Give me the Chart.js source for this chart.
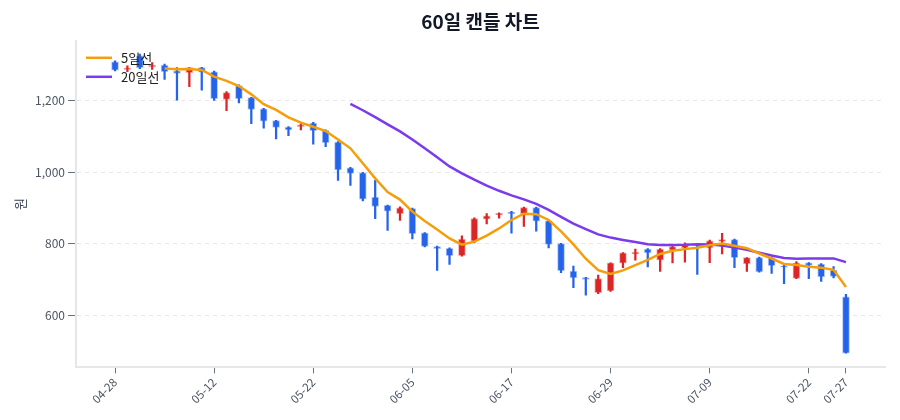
<!DOCTYPE html>
<html>
<head>
<meta charset="utf-8">
<script src="https://cdn.jsdelivr.net/npm/chart.js@4.4.1/dist/chart.umd.min.js"></script>
<style>
  html, body { margin: 0; padding: 0; background: #fff; }
  #wrap { width: 900px; height: 420px; }
</style>
</head>
<body>
<div id="wrap"><canvas id="candleChart" width="900" height="420"></canvas></div>
<script>
  // ── Data ──
  var dates = ['04-28','04-29','04-30','05-01','05-02','05-07','05-08','05-09','05-12','05-13',
               '05-14','05-15','05-16','05-19','05-20','05-21','05-22','05-23','05-26','05-27',
               '05-28','05-29','05-30','06-02','06-05','06-06','06-09','06-10','06-11','06-12',
               '06-13','06-16','06-17','06-18','06-19','06-20','06-23','06-24','06-25','06-27',
               '06-29','06-30','07-01','07-02','07-03','07-04','07-07','07-08','07-09','07-10',
               '07-11','07-14','07-15','07-16','07-17','07-18','07-22','07-23','07-24','07-27'];

  var opens  = [1308,1287,1325,1294,1299,1283,1278,1292,1280,1203,
                1242,1208,1177,1144,1126,1127,1137,1117,1084,1012,
                998,930,907,884,898,830,792,787,766,807,
                868,880,888,884,901,864,800,723,705,663,
                668,745,771,785,754,782,788,799,788,806,
                811,743,761,761,738,703,746,743,726,651];
  var highs  = [1311,1297,1330,1306,1302,1292,1292,1293,1282,1225,
                1244,1209,1178,1145,1127,1135,1139,1118,1085,1013,
                999,977,908,903,899,831,793,788,822,872,
                884,886,890,902,902,865,801,737,706,712,
                746,775,785,786,786,795,802,800,810,829,
                813,761,762,762,739,750,747,744,736,658];
  var lows   = [1283,1281,1289,1287,1259,1201,1239,1229,1200,1172,
                1193,1135,1123,1093,1102,1118,1078,1071,977,963,
                919,870,837,865,813,791,725,742,765,802,
                855,871,829,848,835,788,719,677,656,660,
                666,733,754,735,722,746,748,714,747,771,
                733,722,720,717,688,702,702,694,704,494];
  var closes = [1285,1290,1292,1299,1281,1276,1292,1279,1205,1222,
                1205,1175,1142,1125,1118,1132,1116,1082,1006,996,
                924,904,891,900,828,792,786,766,813,870,
                878,885,884,901,863,798,724,704,700,702,
                746,774,776,774,785,792,796,795,808,811,
                761,761,721,738,734,746,739,707,708,494];

  var ma5  = [null,null,null,null,1289.4,1287.6,1288,1285.4,1266.6,1254.8,
              1240.6,1217.2,1189.8,1173.8,1153,1138.4,1126.6,1114.6,1090.8,1066.4,
              1024.8,982.4,944.2,923,889.4,863,839.4,814.4,797,805.4,
              822.6,842.4,866,883.6,882.2,866.2,834,798,757.8,725.6,
              715.2,725.2,739.6,754.4,771,780.2,784.6,788.4,795.2,800.4,
              794.2,787.2,772.4,758.4,743,740,735.6,732.8,726.8,678.8];
  var ma20 = [null,null,null,null,null,null,null,null,null,null,
              null,null,null,null,null,null,null,null,null,1190.9,
              1172.9,1153.6,1133.5,1113.6,1090.9,1066.7,1041.4,1015.8,996.2,978.6,
              962.2,947.7,934.8,923.6,910.9,894.2,874.6,855.7,840.4,825.7,
              816.8,810.3,804.5,798.2,796.1,796.1,796.6,798,797.8,794.8,
              789,782.8,774.6,766.5,760,757.4,758.2,758.3,758.7,748.3];

  var tickIdx = [0, 8, 16, 24, 32, 40, 48, 56, 59];
  var yTicks  = [600, 800, 1000, 1200];

  // ── Colours ──
  var UP = '#dc2626', DOWN = '#2563eb';
  var UP_EDGE = 'rgba(220,38,38,0.35)', DOWN_EDGE = 'rgba(37,99,235,0.35)';

  function isUp(i) { return closes[i] >= opens[i]; }

  var wickData = dates.map(function(d, i) { return { x: i, y: [lows[i], highs[i]] }; });
  var bodyData = dates.map(function(d, i) { return { x: i, y: [opens[i], closes[i]] }; });
  var candleColors = dates.map(function(d, i) { return isUp(i) ? UP : DOWN; });
  var edgeColors   = dates.map(function(d, i) { return isUp(i) ? UP_EDGE : DOWN_EDGE; });

  var FONT = "'Noto Sans CJK KR', 'Noto Sans', sans-serif";
  Chart.defaults.font.family = FONT;

  // simple legend drawn inside the chart area, top-left
  var maLegend = {
    id: 'maLegend',
    afterDraw: function(chart) {
      var ctx = chart.ctx, area = chart.chartArea;
      var items = [
        { text: '5일선',  color: '#f59e0b' },
        { text: '20일선', color: '#7c3aed' }
      ];
      ctx.save();
      ctx.font = '13px ' + FONT;
      ctx.textBaseline = 'middle';
      items.forEach(function(it, k) {
        var y = area.top + 17 + k * 19;
        ctx.strokeStyle = it.color;
        ctx.lineWidth = 2.5;
        ctx.beginPath();
        ctx.moveTo(area.left + 10, y);
        ctx.lineTo(area.left + 36, y);
        ctx.stroke();
        ctx.fillStyle = '#222';
        ctx.fillText(it.text, area.left + 45, y);
      });
      ctx.restore();
    }
  };

  var ctx = document.getElementById('candleChart').getContext('2d');
  var chart = new Chart(ctx, {
    type: 'bar',
    data: {
      datasets: [
        {
          type: 'line',
          label: '5일선',
          data: ma5.map(function(v, i) { return { x: i, y: v }; }),
          borderColor: '#f59e0b',
          backgroundColor: '#f59e0b',
          borderWidth: 2.5,
          pointRadius: 0,
          tension: 0,
          order: 0
        },
        {
          type: 'line',
          label: '20일선',
          data: ma20.map(function(v, i) { return { x: i, y: v }; }),
          borderColor: '#7c3aed',
          backgroundColor: '#7c3aed',
          borderWidth: 2.5,
          pointRadius: 0,
          tension: 0,
          order: 0
        },
        {
          label: 'body',
          data: bodyData,
          backgroundColor: candleColors,
          borderColor: edgeColors,
          borderWidth: 1,
          borderSkipped: false,
          barThickness: 7,
          grouped: false,
          order: 1
        },
        {
          label: 'wick',
          data: wickData,
          backgroundColor: candleColors,
          borderWidth: 0,
          barThickness: 1.6,
          grouped: false,
          order: 2
        }
      ]
    },
    options: {
      responsive: false,
      animation: false,
      layout: { padding: { left: 8, right: 15, bottom: 12 } },
      plugins: {
        legend: { display: false },
        tooltip: { enabled: false },
        title: {
          display: true,
          text: '60일 캔들 차트',
          fullSize: false,
          color: '#111827',
          font: { size: 19, weight: 'bold', family: FONT },
          padding: { top: 10, bottom: 8 }
        }
      },
      scales: {
        x: {
          type: 'linear',
          offset: false,
          min: -3.15,
          max: 62.15,
          afterBuildTicks: function(scale) {
            scale.ticks = tickIdx.map(function(v) { return { value: v }; });
          },
          ticks: {
            autoSkip: false,
            minRotation: 45,
            maxRotation: 45,
            padding: 2,
            color: '#4b5563',
            font: { size: 11.5 },
            callback: function(v) { return dates[v]; }
          },
          grid: {
            offset: false,
            drawOnChartArea: false,
            tickLength: 6,
            tickColor: '#6b7280'
          },
          border: { color: '#e5e7eb', width: 2 }
        },
        y: {
          min: 454,
          max: 1367,
          afterBuildTicks: function(scale) {
            scale.ticks = yTicks.map(function(v) { return { value: v }; });
          },
          afterFit: function(scale) { scale.width = 68; },
          title: {
            display: true,
            text: '원',
            color: '#374151',
            font: { size: 13 },
            padding: 4
          },
          ticks: {
            padding: 3,
            color: '#4b5563',
            font: { size: 12 },
            callback: function(v) { return v.toLocaleString('en-US'); }
          },
          grid: {
            color: '#e5e7eb',
            tickBorderDash: [],
            tickLength: 8,
            tickColor: '#6b7280'
          },
          border: { color: '#e5e7eb', width: 2, dash: [4, 4] }
        }
      }
    },
    plugins: [maLegend]
  });
</script>
</body>
</html>
